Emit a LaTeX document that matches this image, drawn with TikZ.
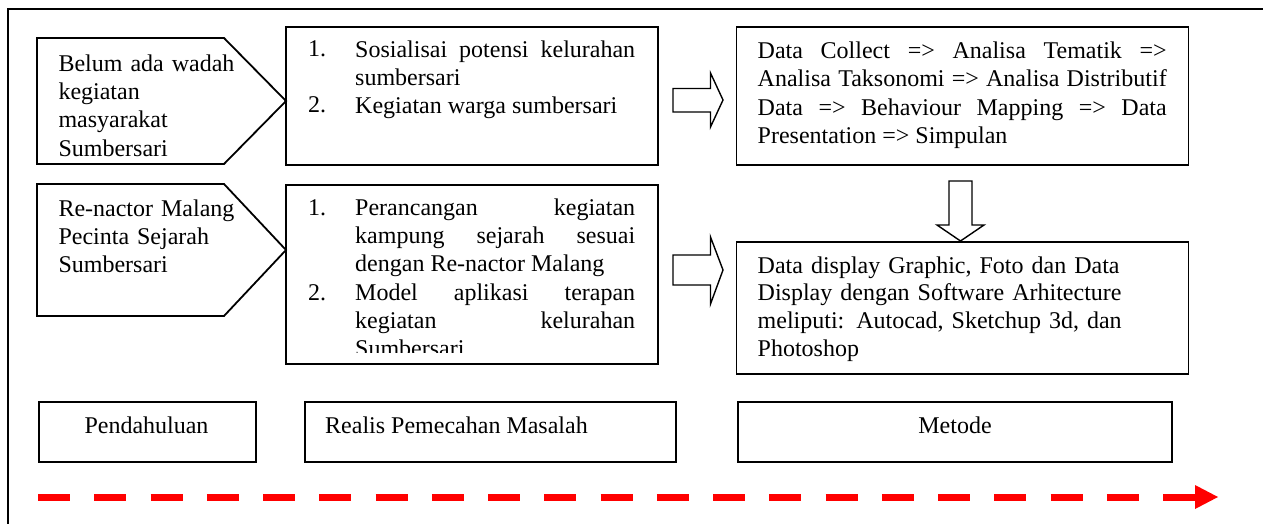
\documentclass[tikz,border=0pt]{standalone}
\usepackage{fontspec}
\setmainfont{Liberation Serif}
\tolerance=10000
\hyphenpenalty=10000
\exhyphenpenalty=10000
\begin{document}
\begin{tikzpicture}[x=1pt,y=-1pt,
  frame/.style={line width=1.8pt},
  box/.style={draw, line width=1.8pt, inner sep=0pt, anchor=north west},
  blockarrow/.style={draw, line width=1.4pt, fill=white, line join=miter},
  txt/.style={inner sep=0pt, font=\fontsize{24}{28.3}\selectfont},
  parajust/.style={txt, anchor=north west, align=justify},
  paraleft/.style={txt, anchor=north west, align=left},
  num/.style={txt, anchor=base west},
  flow/.style={red, line width=7pt, dash pattern=on 32pt off 24.25pt}]
\useasboundingbox (0,0) rectangle (1263,524);
% outer frame (only top and left visible)
\draw[frame] (1263,9) -- (8,9) -- (8,524);

% pentagons
\draw[line width=1.8pt, line join=miter] (37,38) -- (224,38) -- (286,101) -- (224,164) -- (37,164) -- cycle;
\draw[line width=1.8pt, line join=miter] (37,184) -- (224,184) -- (286,250) -- (224,316) -- (37,316) -- cycle;
\node[paraleft, text width=200pt] (t1) at (58.3,51.2) {\strut Belum ada wadah\\ kegiatan\\ masyarakat\\ Sumbersari};
\node[paraleft, text width=200pt] (t2) at (58.3,196.2) {\strut Re-nactor Malang\\ Pecinta Sejarah\\ Sumbersari};

% list boxes
\node[box, minimum width=372pt, minimum height=138pt] (b1) at (285,26) {};
\node[box, minimum width=372pt, minimum height=179pt] (b2) at (285,184) {};
\node[num] (n11) at (308,57) {1.};
\node[parajust, text width=280pt] (i11) at (355,37.2) {\strut Sosialisai potensi kelurahan\linebreak sumbersari};
\node[num] (n12) at (308,113) {2.};
\node[parajust, text width=280pt] (i12) at (355,93.2) {\strut Kegiatan warga sumbersari};
\node[num] (n21) at (308,215) {1.};
\node[parajust, text width=280pt] (i21) at (355,195.2) {\strut Perancangan kegiatan\linebreak kampung sejarah sesuai\linebreak dengan Re-nactor Malang};
\node[num] (n22) at (308,300) {2.};
\begin{scope}
\clip (285,184) rectangle (657,352);
\node[parajust, text width=280pt] (i22) at (355,280.2) {\strut Model aplikasi terapan\linebreak kegiatan kelurahan\linebreak Sumbersari};
\end{scope}

% method boxes
\node[box, minimum width=452pt, minimum height=138pt] (b3) at (735.6,26) {};
\node[box, minimum width=452pt, minimum height=132pt] (b4) at (735.6,241) {};
\node[parajust, text width=409pt] (t3) at (757.5,38.5) {\strut Data Collect => Analisa Tematik =>\linebreak Analisa Taksonomi => Analisa Distributif\linebreak Data => Behaviour Mapping => Data\linebreak Presentation => Simpulan};
\node[paraleft, text width=420pt, font=\fontsize{24}{27.7}\selectfont] (t4) at (757.5,253.6) {\strut Data display Graphic, Foto dan Data\\ Display dengan Software Arhitecture\\ meliputi: Autocad, Sketchup 3d, dan\\ Photoshop};

% block arrows
\draw[blockarrow] (673,88.5) -- (710.5,88.5) -- (710.5,73) -- (723,100) -- (710.5,127) -- (710.5,112) -- (673,112) -- cycle;
\draw[blockarrow] (673,255) -- (710.5,255) -- (710.5,237) -- (723,270) -- (710.5,304) -- (710.5,285) -- (673,285) -- cycle;
\draw[blockarrow] (949,181) -- (949,225) -- (937,225) -- (960.5,241) -- (984,225) -- (972,225) -- (972,181) -- cycle;

% bottom labels
\node[box, minimum width=217pt, minimum height=60pt] (l1) at (38,401) {};
\node[box, minimum width=371pt, minimum height=60pt] (l2) at (304,401) {};
\node[box, minimum width=434pt, minimum height=60pt] (l3) at (737,401) {};
\node[txt, anchor=base] (lt1) at (146.5,433) {Pendahuluan};
\node[txt, anchor=base west] (lt2) at (325,433) {Realis Pemecahan Masalah};
\node[txt, anchor=base] (lt3) at (955,433) {Metode};

% red dashed timeline
\coordinate (ds) at (38,497);
\coordinate (de) at (1195,497);
\draw[flow] (ds) -- (de);
\fill[red] (de) ++(0,-12) -- ++(23,12) -- ++(-23,12) -- cycle;
\end{tikzpicture}
\end{document}
